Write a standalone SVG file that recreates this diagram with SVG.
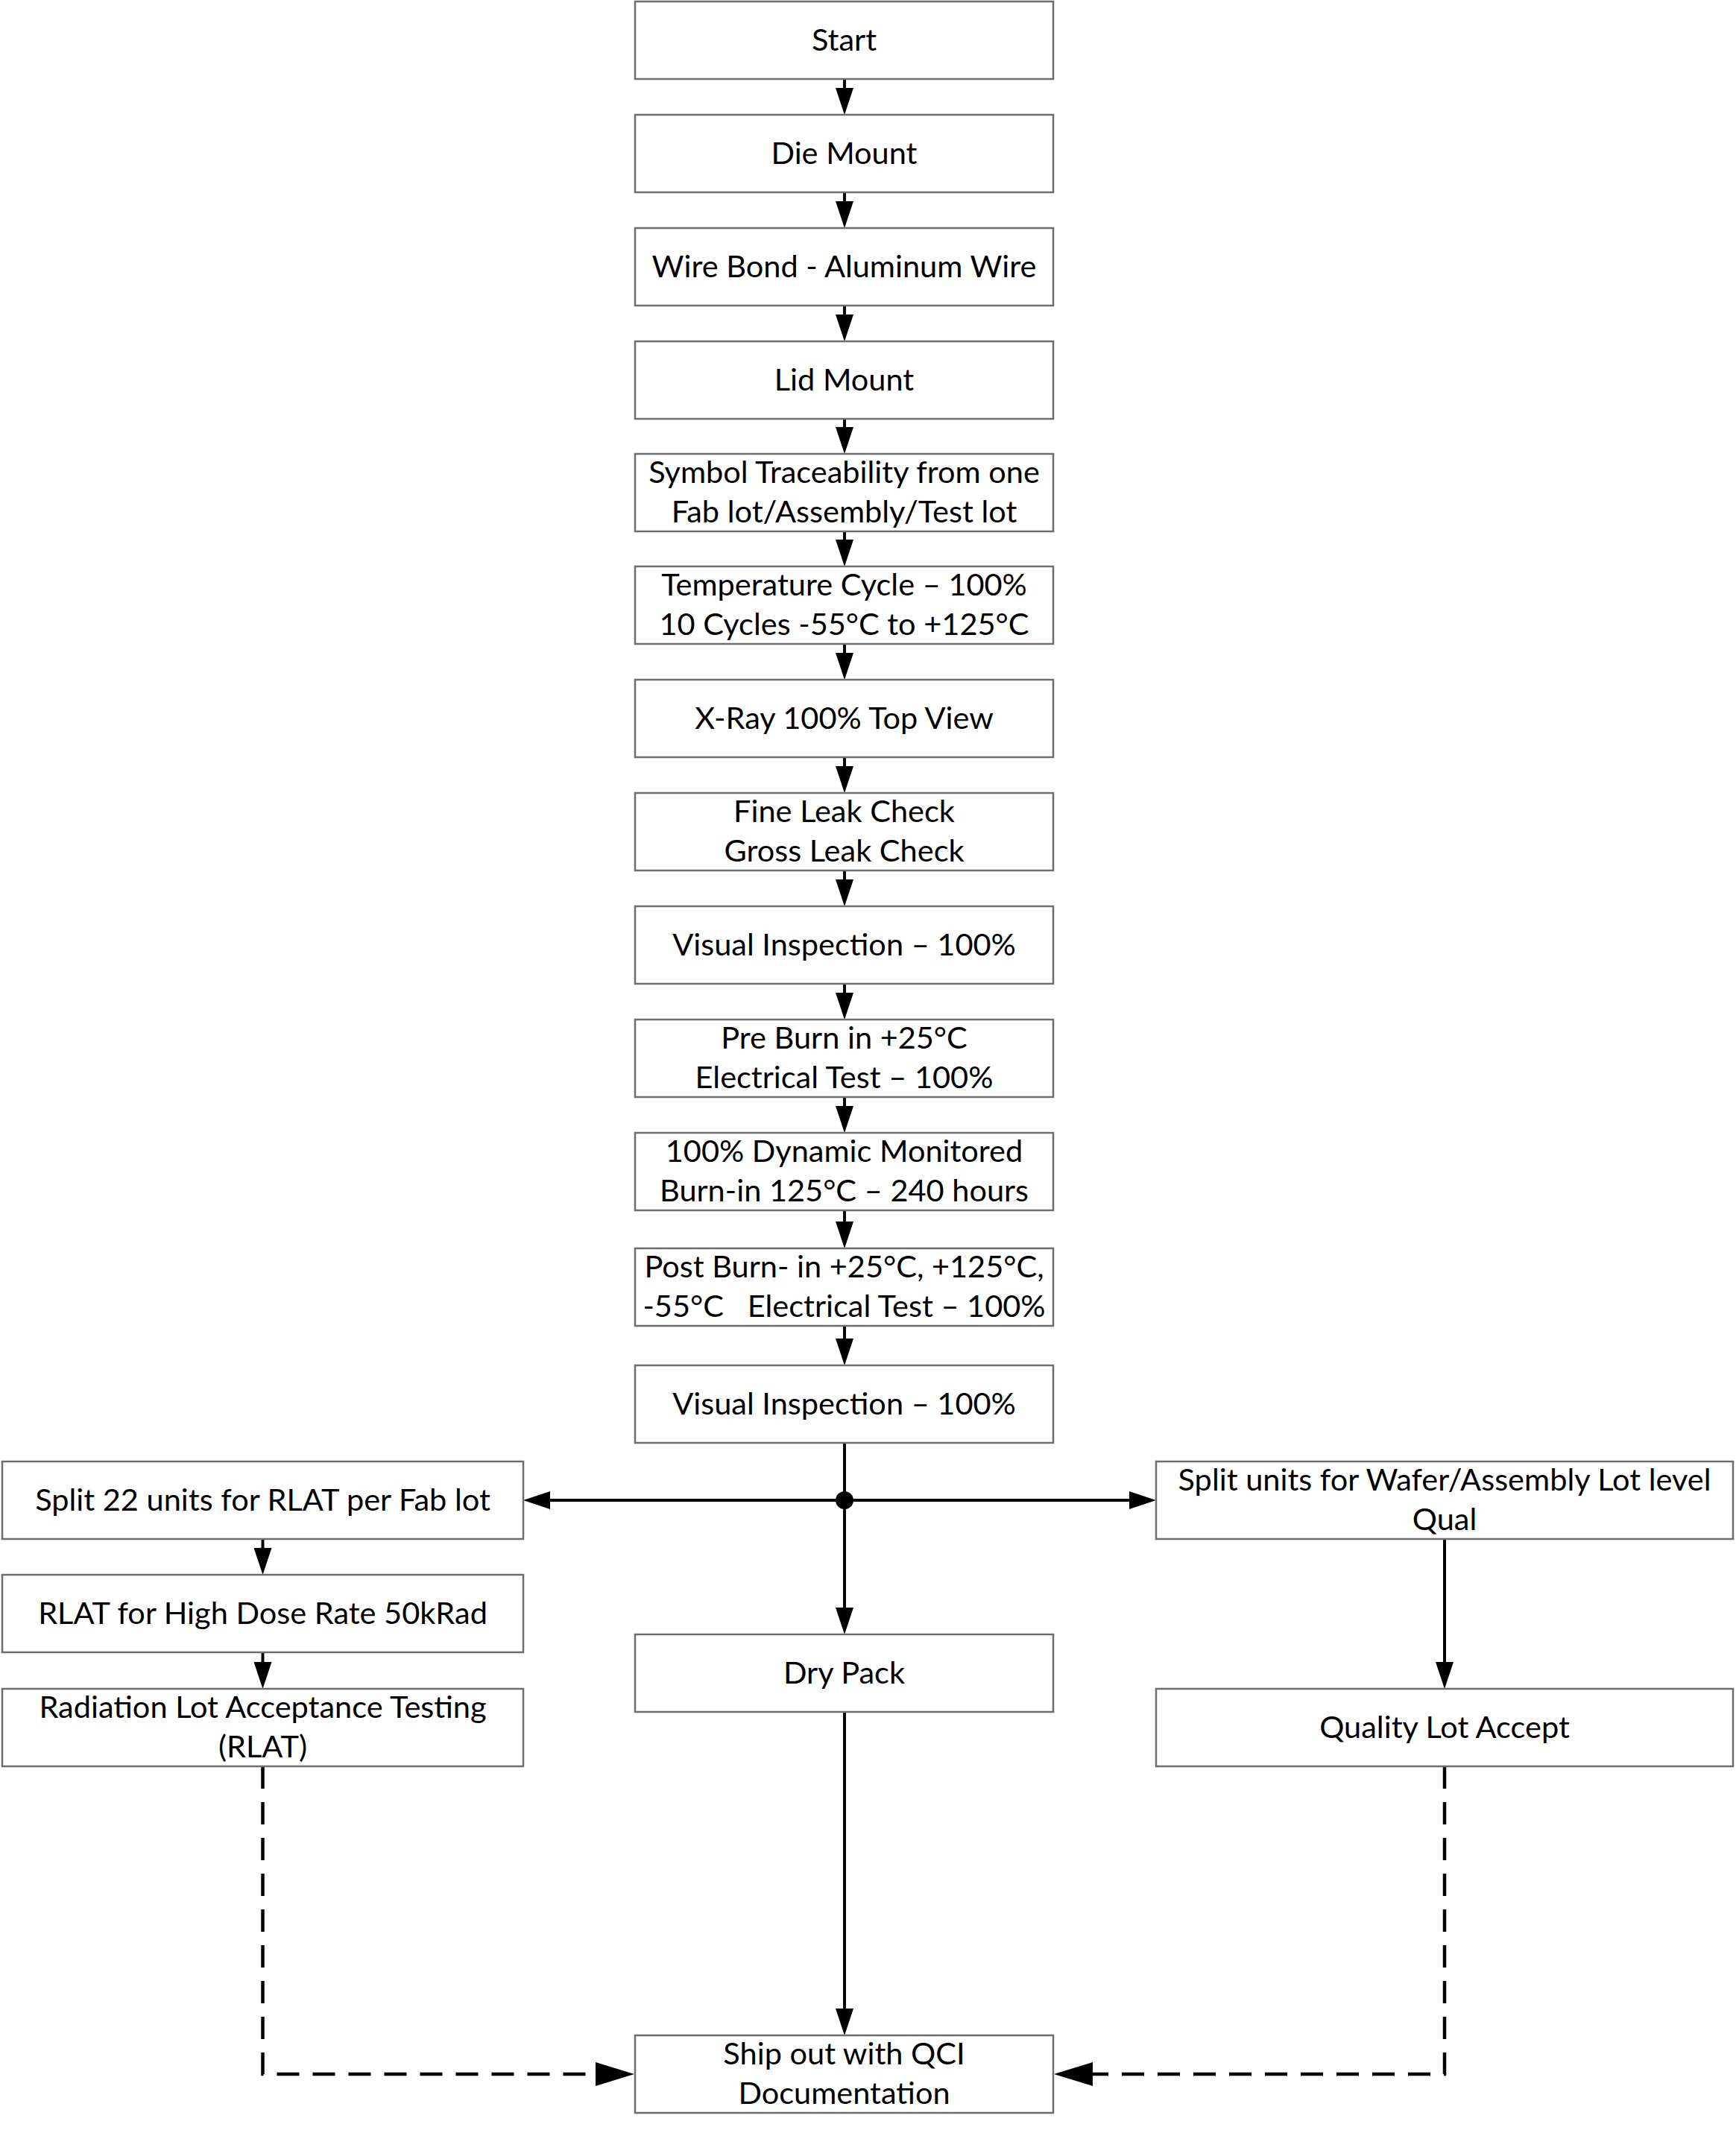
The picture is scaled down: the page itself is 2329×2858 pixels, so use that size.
<svg xmlns="http://www.w3.org/2000/svg" width="2329" height="2858" viewBox="0 0 2329 2858">
<style>
.box{fill:#fff;stroke:#6e6e6e;stroke-width:2.5}
.t{font-family:Lato,"Open Sans","DejaVu Sans",sans-serif;font-size:41.5px;fill:#000;text-anchor:middle;white-space:pre}
.c{fill:none;stroke:#000;stroke-width:4}
.d{fill:none;stroke:#000;stroke-width:4.5;stroke-dasharray:30 18}
</style>
<defs>
<marker id="ah" markerUnits="userSpaceOnUse" markerWidth="36" markerHeight="24" refX="26" refY="12" orient="auto"><path d="M0,0 L36,12 L0,24 z" fill="#000"/></marker>
<marker id="ahd" markerUnits="userSpaceOnUse" markerWidth="52" markerHeight="32" refX="42" refY="16" orient="auto"><path d="M0,0 L52,16 L0,32 z" fill="#000"/></marker>
</defs>
<rect width="2329" height="2858" fill="#fff"/>
<g id="connectors">
<line class="c" x1="1133" y1="106" x2="1133" y2="144" marker-end="url(#ah)"/>
<line class="c" x1="1133" y1="258" x2="1133" y2="296" marker-end="url(#ah)"/>
<line class="c" x1="1133" y1="410" x2="1133" y2="448" marker-end="url(#ah)"/>
<line class="c" x1="1133" y1="562" x2="1133" y2="599" marker-end="url(#ah)"/>
<line class="c" x1="1133" y1="713" x2="1133" y2="750" marker-end="url(#ah)"/>
<line class="c" x1="1133" y1="864" x2="1133" y2="902" marker-end="url(#ah)"/>
<line class="c" x1="1133" y1="1016" x2="1133" y2="1054" marker-end="url(#ah)"/>
<line class="c" x1="1133" y1="1168" x2="1133" y2="1206" marker-end="url(#ah)"/>
<line class="c" x1="1133" y1="1320" x2="1133" y2="1358" marker-end="url(#ah)"/>
<line class="c" x1="1133" y1="1472" x2="1133" y2="1510" marker-end="url(#ah)"/>
<line class="c" x1="1133" y1="1624" x2="1133" y2="1665" marker-end="url(#ah)"/>
<line class="c" x1="1133" y1="1779" x2="1133" y2="1822" marker-end="url(#ah)"/>
<line class="c" x1="1133" y1="1936" x2="1133" y2="2183" marker-end="url(#ah)"/>
<line class="c" x1="1133" y1="2013" x2="712" y2="2013" marker-end="url(#ah)"/>
<line class="c" x1="1133" y1="2013" x2="1541" y2="2013" marker-end="url(#ah)"/>
<circle cx="1133" cy="2013" r="12" fill="#000"/>
<line class="c" x1="352.5" y1="2065" x2="352.5" y2="2103" marker-end="url(#ah)"/>
<line class="c" x1="352.5" y1="2217" x2="352.5" y2="2256" marker-end="url(#ah)"/>
<line class="c" x1="1938" y1="2065" x2="1938" y2="2256" marker-end="url(#ah)"/>
<line class="c" x1="1133" y1="2297" x2="1133" y2="2721" marker-end="url(#ah)"/>
<path class="d" d="M352.5,2370 V2783 H841" marker-end="url(#ahd)"/>
<path class="d" d="M1938,2370 V2783 H1424" marker-end="url(#ahd)"/>
</g>
<g id="n1"><rect class="box" x="852" y="2" width="561" height="104"/><text class="t" x="1132.5" y="68">Start</text></g>
<g id="n2"><rect class="box" x="852" y="154" width="561" height="104"/><text class="t" x="1132.5" y="220">Die Mount</text></g>
<g id="n3"><rect class="box" x="852" y="306" width="561" height="104"/><text class="t" x="1132.5" y="372">Wire Bond - Aluminum Wire</text></g>
<g id="n4"><rect class="box" x="852" y="458" width="561" height="104"/><text class="t" x="1132.5" y="524">Lid Mount</text></g>
<g id="n5"><rect class="box" x="852" y="609" width="561" height="104"/><text class="t" x="1132.5" y="648">Symbol Traceability from one</text><text class="t" x="1132.5" y="701">Fab lot/Assembly/Test lot</text></g>
<g id="n6"><rect class="box" x="852" y="760" width="561" height="104"/><text class="t" x="1132.5" y="799">Temperature Cycle – 100%</text><text class="t" x="1132.5" y="852">10 Cycles -55°C to +125°C</text></g>
<g id="n7"><rect class="box" x="852" y="912" width="561" height="104"/><text class="t" x="1132.5" y="978">X-Ray 100% Top View</text></g>
<g id="n8"><rect class="box" x="852" y="1064" width="561" height="104"/><text class="t" x="1132.5" y="1103">Fine Leak Check</text><text class="t" x="1132.5" y="1156">Gross Leak Check</text></g>
<g id="n9"><rect class="box" x="852" y="1216" width="561" height="104"/><text class="t" x="1132.5" y="1282">Visual Inspection – 100%</text></g>
<g id="n10"><rect class="box" x="852" y="1368" width="561" height="104"/><text class="t" x="1132.5" y="1407">Pre Burn in +25°C</text><text class="t" x="1132.5" y="1460">Electrical Test – 100%</text></g>
<g id="n11"><rect class="box" x="852" y="1520" width="561" height="104"/><text class="t" x="1132.5" y="1559">100% Dynamic Monitored</text><text class="t" x="1132.5" y="1612">Burn-in 125°C – 240 hours</text></g>
<g id="n12"><rect class="box" x="852" y="1675" width="561" height="104"/><text class="t" x="1132.5" y="1714">Post Burn- in +25°C, +125°C,</text><text class="t" x="1132.5" y="1767">-55°C   Electrical Test – 100%</text></g>
<g id="n13"><rect class="box" x="852" y="1832" width="561" height="104"/><text class="t" x="1132.5" y="1898">Visual Inspection – 100%</text></g>
<g id="n14"><rect class="box" x="3" y="1961" width="699" height="104"/><text class="t" x="352.5" y="2027">Split 22 units for RLAT per Fab lot</text></g>
<g id="n15"><rect class="box" x="3" y="2113" width="699" height="104"/><text class="t" x="352.5" y="2179">RLAT for High Dose Rate 50kRad</text></g>
<g id="n16"><rect class="box" x="3" y="2266" width="699" height="104"/><text class="t" x="352.5" y="2305">Radiation Lot Acceptance Testing</text><text class="t" x="352.5" y="2358">(RLAT)</text></g>
<g id="n17"><rect class="box" x="852" y="2193" width="561" height="104"/><text class="t" x="1132.5" y="2259">Dry Pack</text></g>
<g id="n18"><rect class="box" x="1551" y="1961" width="774" height="104"/><text class="t" x="1938" y="2000">Split units for Wafer/Assembly Lot level</text><text class="t" x="1938" y="2053">Qual</text></g>
<g id="n19"><rect class="box" x="1551" y="2266" width="774" height="104"/><text class="t" x="1938" y="2332">Quality Lot Accept</text></g>
<g id="n20"><rect class="box" x="852" y="2731" width="561" height="104"/><text class="t" x="1132.5" y="2770">Ship out with QCI</text><text class="t" x="1132.5" y="2823">Documentation</text></g>
</svg>
